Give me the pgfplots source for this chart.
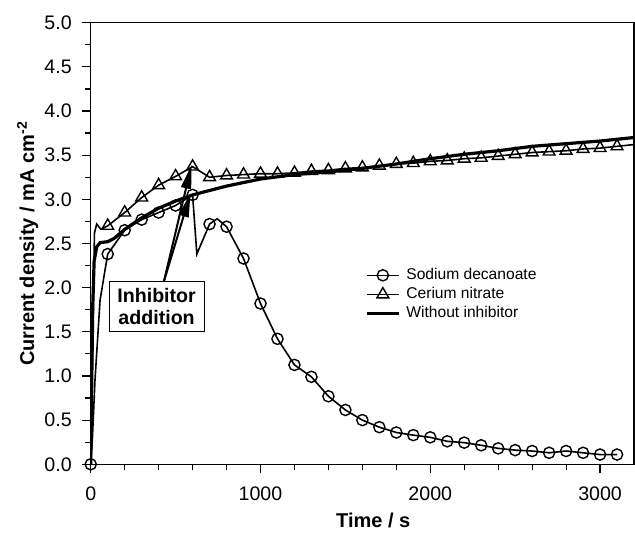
\documentclass[border=0pt]{standalone}
\usepackage{fontspec}
\setmainfont{Liberation Sans}
\usepackage{pgfplots}
\pgfplotsset{compat=1.18}
\usetikzlibrary{arrows.meta}
\pgfplotsset{
  marklegend/.style={legend image code/.code={\draw[black, line width=0.8pt] (0cm,0cm) -- (0.56cm,0cm); \draw[##1] plot coordinates {(0.28cm,0cm)};}},
  linelegend/.style={legend image code/.code={\draw[##1] (0cm,0cm) -- (0.56cm,0cm);}},
}

\begin{document}
\begin{tikzpicture}
\begin{axis}[
  scale only axis, width=271.65pt, height=220.8pt,
  xmin=0, xmax=3200, ymin=0, ymax=5,
  xtick={0,1000,2000,3000}, minor x tick num=4,
  ytick={0,0.5,1,1.5,2,2.5,3,3.5,4,4.5,5}, minor y tick num=1,
  tick pos=left, tick align=outside,
  major tick length=4.5pt, minor tick length=2.7pt,
  axis line style={line width=0.6pt},
  every tick/.style={black, line width=0.6pt},
  /pgf/number format/assume math mode=true,
  x tick label style={/pgf/number format/1000 sep={}, yshift=-3pt},
  y tick label style={/pgf/number format/.cd, fixed, fixed zerofill, precision=1, /tikz/xshift=-1.5pt},
  ticklabel style={font=\fontsize{9.8}{11}\selectfont},
  xlabel={Time / s},
  ylabel={Current density / mA cm\textsuperscript{-2}},
  label style={font=\bfseries\fontsize{10}{12}\selectfont},
  xlabel style={at={(rel axis cs:0.52,-0.127)}, anchor=center},
  ylabel style={at={(rel axis cs:-0.116,0.5)}, anchor=center},
  legend style={draw=none, fill=none, at={(rel axis cs:0.501,0.455)}, anchor=north west,
    font=\fontsize{7.8}{9}\selectfont, row sep=0pt, column sep=1.8pt, inner sep=1pt,
    nodes={inner sep=1.2pt}},
  legend cell align=left,
]
% ---- lines (drawn first) ----
\addplot[black, line width=0.8pt, forget plot] coordinates {
 (0,0) (10,0.3) (25,0.95) (55,1.86) (100,2.38) (200,2.65) (300,2.77) (400,2.85)
 (500,2.93) (600,3.05) (625,2.38) (700,2.72) (745,2.78) (800,2.69) (900,2.33)
 (1000,1.82) (1100,1.42) (1200,1.125) (1300,0.99) (1400,0.77) (1500,0.615)
 (1600,0.50) (1700,0.42) (1800,0.36) (1900,0.33) (2000,0.305) (2100,0.26)
 (2200,0.245) (2300,0.215) (2400,0.18) (2500,0.16) (2600,0.15) (2700,0.13)
 (2800,0.15) (2900,0.13) (3000,0.11) (3100,0.11)
};
\addplot[black, line width=0.8pt, forget plot] coordinates {
 (0,0) (10,1.2) (22,2.62) (35,2.72) (60,2.66) (100,2.70) (200,2.85) (300,3.02)
 (400,3.16) (500,3.26) (600,3.37) (700,3.25) (800,3.27) (900,3.28) (1000,3.29)
 (1100,3.29) (1200,3.30) (1300,3.32) (1400,3.33) (1500,3.35) (1600,3.36)
 (1700,3.38) (1800,3.40) (1900,3.41) (2000,3.43) (2100,3.44) (2200,3.46)
 (2300,3.47) (2400,3.49) (2500,3.51) (2600,3.53) (2700,3.54) (2800,3.55)
 (2900,3.57) (3000,3.58) (3100,3.60) (3200,3.62)
};
\addplot[black, line width=1.6pt, forget plot] coordinates {
 (0,0) (5,0.8) (12,1.8) (20,2.3) (35,2.46) (55,2.51) (100,2.52) (140,2.56)
 (200,2.66) (300,2.79) (400,2.90) (500,2.98) (600,3.05) (700,3.10) (800,3.15)
 (900,3.19) (1000,3.23) (1200,3.28) (1400,3.31) (1600,3.35) (1800,3.40)
 (2000,3.46) (2200,3.51) (2400,3.55) (2600,3.60) (2800,3.63) (3000,3.66) (3200,3.70)
};
% ---- markers ----
\addplot[only marks, mark=o, mark size=2.8pt, mark options={fill=white, draw=black, line width=0.7pt}, marklegend]
 coordinates {
 (0,0) (100,2.38) (200,2.65) (300,2.77) (400,2.85) (500,2.93) (600,3.05)
 (700,2.72) (800,2.69) (900,2.33) (1000,1.82) (1100,1.42) (1200,1.125) (1300,0.99)
 (1400,0.77) (1500,0.615) (1600,0.50) (1700,0.42) (1800,0.36) (1900,0.33) (2000,0.305)
 (2100,0.26) (2200,0.245) (2300,0.215) (2400,0.18) (2500,0.16) (2600,0.15)
 (2700,0.13) (2800,0.15) (2900,0.13) (3000,0.11) (3100,0.11)
};
\addlegendentry{Sodium decanoate}
\addplot[only marks, mark=triangle, mark size=3.4pt, mark options={fill=white, draw=black, line width=0.7pt}, marklegend]
 coordinates {
 (100,2.70) (200,2.85) (300,3.02) (400,3.16) (500,3.26) (600,3.37) (700,3.25)
 (800,3.27) (900,3.28) (1000,3.29) (1100,3.29) (1200,3.30) (1300,3.32) (1400,3.33)
 (1500,3.35) (1600,3.36) (1700,3.38) (1800,3.40) (1900,3.41) (2000,3.43)
 (2100,3.44) (2200,3.46) (2300,3.47) (2400,3.49) (2500,3.51) (2600,3.53)
 (2700,3.54) (2800,3.55) (2900,3.57) (3000,3.58) (3100,3.60)
};
\addlegendentry{Cerium nitrate}
\addlegendimage{black, line width=1.6pt, linelegend}
\addlegendentry{Without inhibitor}
% ---- annotation ----
\draw[black, line width=1pt, -{Triangle[length=12pt,width=5pt]}] (axis cs:431,2.07) -- (axis cs:594,3.39);
\draw[black, line width=1pt, -{Triangle[length=12pt,width=5pt]}] (axis cs:431,2.07) -- (axis cs:588,3.07);
\node[draw=black, line width=0.5pt, fill=white, align=center, font=\bfseries\fontsize{9.8}{10.9}\selectfont,
  inner xsep=4.2pt, inner ysep=3.5pt] at (axis cs:388,1.785) {Inhibitor\\addition};
\coordinate (bbA) at (rel axis cs:-0.167,-0.151);
\coordinate (bbB) at (rel axis cs:1.0018,1.0514);
\end{axis}
\path (bbA) rectangle (bbB);
\end{tikzpicture}
\end{document}
